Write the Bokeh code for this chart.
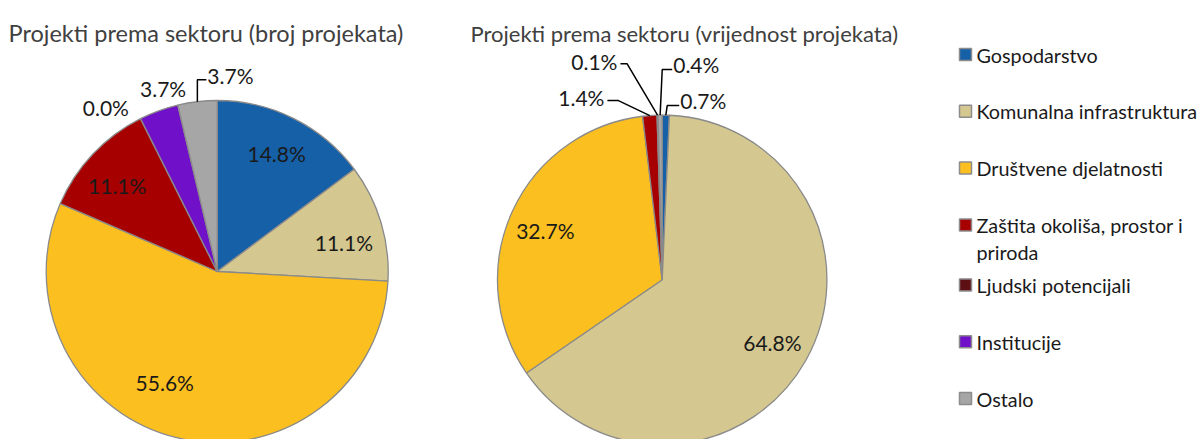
import math
from bokeh.plotting import figure
from bokeh.models import ColumnDataSource, Range1d
from bokeh.embed import file_html
from bokeh.resources import INLINE
from bokeh.core.properties import value

# ---------------- data ----------------
categories = ["Gospodarstvo", "Komunalna infrastruktura", "Društvene djelatnosti",
              "Zaštita okoliša, prostor i priroda", "Ljudski potencijali",
              "Institucije", "Ostalo"]
legend_lines = [["Gospodarstvo"], ["Komunalna infrastruktura"], ["Društvene djelatnosti"],
                ["Zaštita okoliša, prostor i", "priroda"], ["Ljudski potencijali"],
                ["Institucije"], ["Ostalo"]]
colors = ["#1660A8", "#D4C78F", "#FBBF1F", "#A60000", "#5E0F14", "#7010C8", "#A6A6A6"]
count_pct = [14.8, 11.1, 55.6, 11.1, 0.0, 3.7, 3.7]   # broj projekata
value_pct = [0.7, 64.8, 32.7, 1.4, 0.1, 0.0, 0.4]     # vrijednost projekata
title_left = "Projekti prema sektoru (broj projekata)"
title_right = "Projekti prema sektoru (vrijednost projekata)"

# ---------------- layout ----------------
W, H = 1204, 439
def px(rx): return rx
def py(ry): return H - ry

FONT = "Lato"
LBL_SIZE = "21px"
TXT = "#1a1a1a"

# label placement per slice: ("in", radius factor, angle tweak deg) or ("lead", ox, oy, h, dy)
left_layout = {0: ("in", 0.775, 0.0), 1: ("in", 0.76, 3.8), 2: ("in", 0.72, 11.9),
               3: ("in", 0.77, -2.8), 4: ("in", 1.16, -7.5), 5: ("in", 1.115, 3.5),
               6: ("lead", 0, -22, 9, -4)}
right_layout = {0: ("lead", 1.4, -9.6, 12, -5), 1: ("in", 0.77, 0.6), 2: ("in", 0.77, -1.5),
                3: ("lead", -31.4, -15, -11, -3), 4: ("lead", -30.4, -51.4, -6.7, -2),
                6: ("lead", 2.1, -45.6, 10, -5.5)}

pies = [
    dict(vals=count_pct, cx=216.7, cy=271.0, R=171.0, layout=left_layout,
         title=title_left, tx=8, tsize="23.5px"),
    dict(vals=value_pct, cx=661.7, cy=279.3, R=164.7, layout=right_layout,
         title=title_right, tx=470, tsize="22px"),
]

p = figure(width=W, height=H, x_range=Range1d(0, W), y_range=Range1d(0, H),
           output_backend="svg", toolbar_location=None,
           x_axis_location=None, y_axis_location=None, min_border=0)
p.grid.visible = False
p.outline_line_color = None
p.background_fill_color = "white"

for pie in pies:
    vals = pie["vals"]
    total = sum(vals)
    cx, cy, R = pie["cx"], pie["cy"], pie["R"]
    starts, ends, cols, mids = [], [], [], []
    cum = 0.0
    for i, v in enumerate(vals):
        c0 = cum / total
        cum += v
        c1 = cum / total
        mids.append((c0 + c1) / 2 * 360.0)
        if v > 0:
            starts.append(math.pi / 2 - 2 * math.pi * c0)
            ends.append(math.pi / 2 - 2 * math.pi * c1)
            cols.append(colors[i])
    src = ColumnDataSource(dict(x=[px(cx)] * len(cols), y=[py(cy)] * len(cols),
                                s=starts, e=ends, c=cols))
    p.wedge(x="x", y="y", radius=R, start_angle="s", end_angle="e", direction="clock",
            fill_color="c", line_color="#8a8a8a", line_width=1.3, source=src)

    # title
    p.text(x=[px(pie["tx"])], y=[py(32.5)], text=[pie["title"]],
           text_font=value(FONT), text_font_size=pie["tsize"], text_color="#404040",
           text_baseline="alphabetic", text_align="left")

    # labels
    for i, spec in pie["layout"].items():
        lbl = f"{vals[i]:.1f}%"
        th = mids[i]
        if spec[0] == "in":
            _, rf, dth = spec
            a = math.radians(th + dth)
            lx = cx + rf * R * math.sin(a)
            ly = cy - rf * R * math.cos(a)
            p.text(x=[px(lx)], y=[py(ly)], text=[lbl], text_font=value(FONT),
                   text_font_size=LBL_SIZE, text_color=TXT,
                   text_align="center", text_baseline="middle")
        else:
            _, ox, oy, h, dy = spec
            a = math.radians(th)
            ax_ = cx + R * math.sin(a)
            ay_ = cy - R * math.cos(a)
            ex, ey = ax_ + ox, ay_ + oy
            hx = ex + h
            p.line(x=[px(ax_), px(ex), px(hx)], y=[py(ay_), py(ey), py(ey)],
                   line_color="black", line_width=1.5)
            align = "left" if h > 0 else "right"
            tx = hx + (1 if h > 0 else -3)
            p.text(x=[px(tx)], y=[py(ey + dy)], text=[lbl], text_font=value(FONT),
                   text_font_size=LBL_SIZE, text_color=TXT,
                   text_align=align, text_baseline="middle")

# legend
ly0 = 54.0
step = 56.8
extra_line = 3.2
yy = ly0
for i, lines in enumerate(legend_lines):
    p.rect(x=[px(965)], y=[py(yy)], width=12, height=12, fill_color=colors[i],
           line_color="#8c8c8c", line_width=1.5)
    for k, ln in enumerate(lines):
        p.text(x=[px(976)], y=[py(yy + k * 26.7)], text=[ln], text_font=value(FONT),
               text_font_size="19.8px", text_color=TXT,
               text_align="left", text_baseline="middle")
    yy += step + extra_line * (len(lines) - 1)

open("out.html", "w").write(file_html(p, INLINE))
